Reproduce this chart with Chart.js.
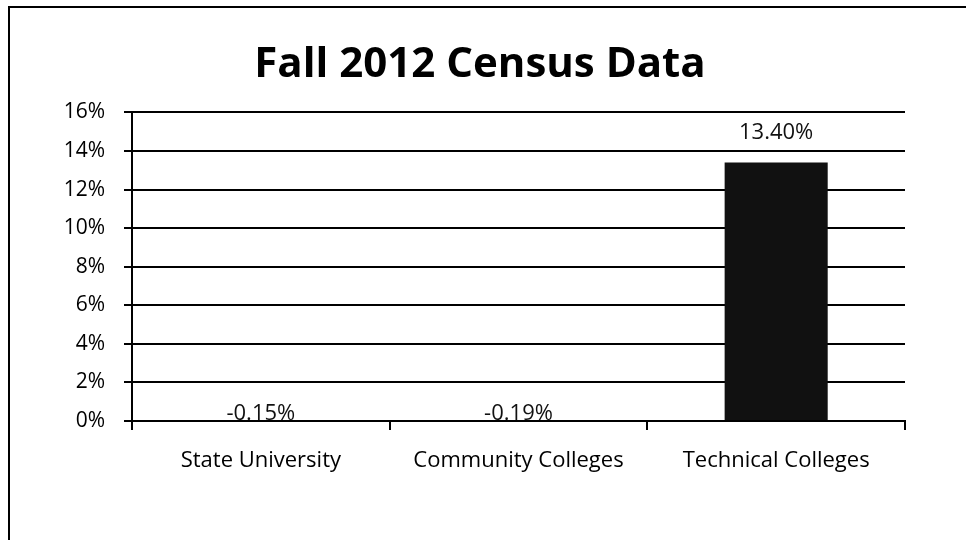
<!DOCTYPE html>
<html>
<head>
<meta charset="utf-8">
<script src="https://cdn.jsdelivr.net/npm/chart.js@4/dist/chart.umd.min.js"></script>
<style>
  html, body { margin: 0; padding: 0; background: #fff; }
  #wrap { position: relative; width: 966px; height: 540px; overflow: hidden; }
  #frame { position: absolute; left: 8px; top: 6px; width: 2000px; height: 2000px;
           border-left: 2px solid #000; border-top: 2px solid #000; pointer-events: none; }
  canvas { position: absolute; left: 0; top: 0; }
</style>
</head>
<body>
<div id="wrap">
  <canvas id="c" width="966" height="540"></canvas>
  <div id="frame"></div>
</div>
<script>
const titleText = 'Fall 2012 Census Data';
const categories = ['State University', 'Community Colleges', 'Technical Colleges'];
const values = [-0.15, -0.19, 13.40];
const valueLabels = ['-0.15%', '-0.19%', '13.40%'];
const yTicks = [0, 2, 4, 6, 8, 10, 12, 14, 16];

const FONT = '"Open Sans", Lato, sans-serif';

const labelPlugin = {
  id: 'valueLabels',
  afterDatasetsDraw(chart) {
    const ctx = chart.ctx;
    const meta = chart.getDatasetMeta(0);
    const y = chart.scales.y;
    ctx.save();
    ctx.font = '22px ' + FONT;
    ctx.fillStyle = '#111';
    ctx.textAlign = 'center';
    meta.data.forEach((bar, i) => {
      const v = values[i];
      let ty;
      if (v >= 0) {
        ctx.textBaseline = 'middle';
        ty = y.getPixelForValue(v) - 30;
      } else {
        ctx.textBaseline = 'alphabetic';
        ty = y.getPixelForValue(0) - 1;
      }
      ctx.fillText(valueLabels[i], bar.x, ty);
    });
    ctx.restore();
  }
};

new Chart(document.getElementById('c'), {
  type: 'bar',
  data: {
    labels: categories,
    datasets: [{
      data: values,
      backgroundColor: '#111111',
      borderWidth: 0,
      categoryPercentage: 0.8,
      barPercentage: 0.5
    }]
  },
  options: {
    responsive: false,
    animation: false,
    devicePixelRatio: 1,
    layout: { padding: { left: 55, right: 61, top: 0, bottom: 0 } },
    plugins: {
      legend: { display: false },
      tooltip: { enabled: false },
      title: {
        display: true,
        text: titleText,
        color: '#000',
        font: { family: FONT, size: 42, weight: 'bold' },
        padding: { top: 40, bottom: 22 }
      }
    },
    scales: {
      x: {
        afterFit(scale) { scale.height = 119; },
        grid: { drawOnChartArea: false, offset: true, color: '#000', lineWidth: 2, tickLength: 9 },
        border: { color: '#000', width: 2 },
        ticks: { color: '#000', font: { family: FONT, size: 22 }, padding: 18 }
      },
      y: {
        min: 0, max: 16,
        afterBuildTicks(scale) { scale.ticks = yTicks.map(v => ({ value: v })); },
        afterFit(scale) { scale.width = 77; },
        grid: { color: '#000', lineWidth: 2, tickLength: 8 },
        border: { color: '#000', width: 2 },
        ticks: { color: '#000', font: { family: FONT, size: 21 }, padding: 19,
                 callback: v => v + '%' }
      }
    }
  },
  plugins: [labelPlugin]
});
</script>
</body>
</html>
